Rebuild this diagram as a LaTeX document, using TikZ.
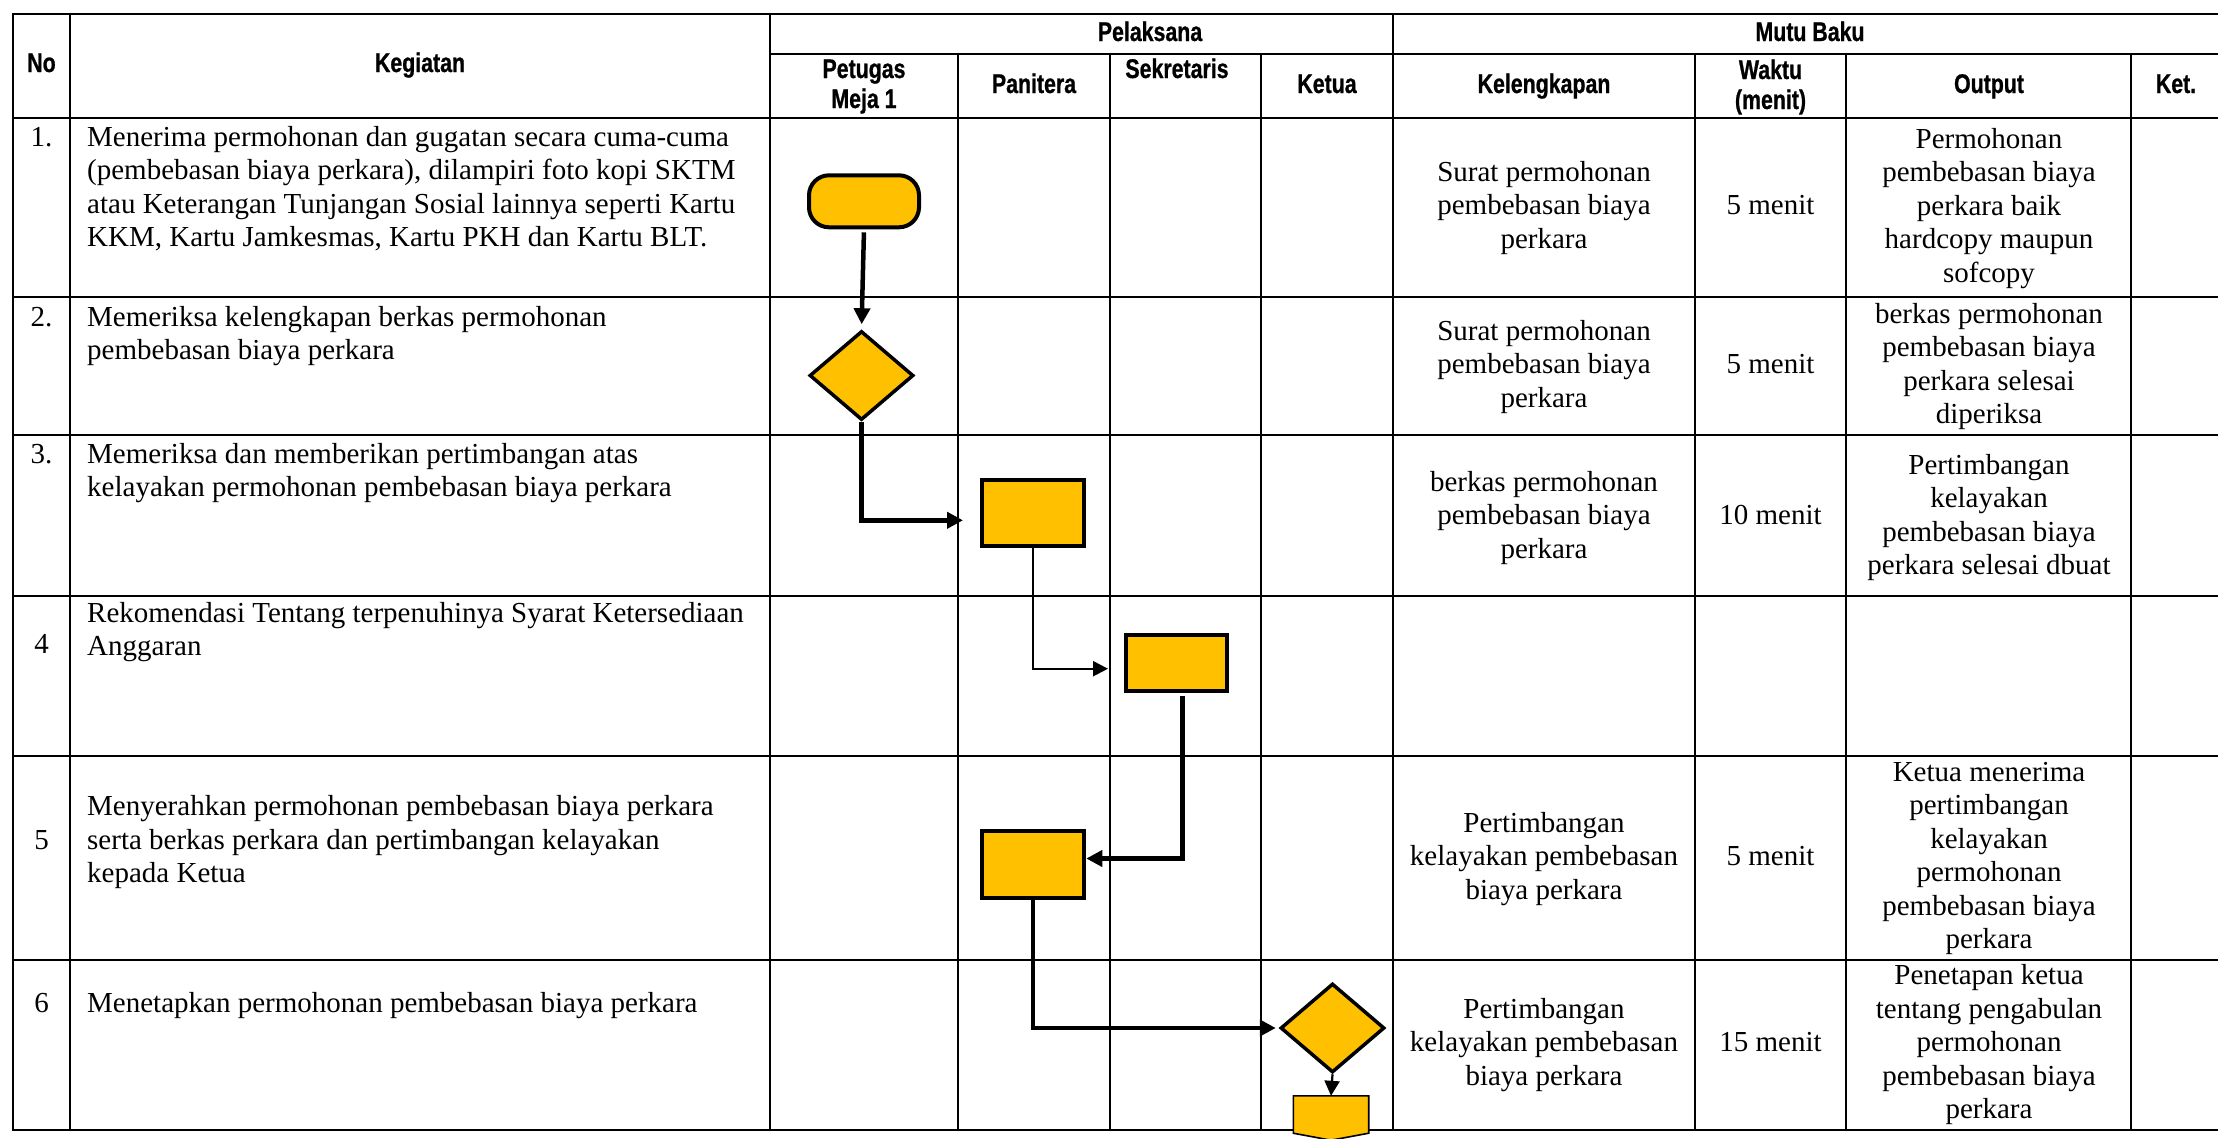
\documentclass[tikz,border=0pt]{standalone}
\usepackage{fontspec}
\setmainfont{Liberation Serif}
\newfontfamily\hdrfamily{Liberation Sans Bold}[FakeStretch=0.79, FakeBold=0.8]
\usetikzlibrary{arrows.meta,shapes.geometric}
\definecolor{gold}{HTML}{FFC000}
\newcommand{\bodyfont}{\fontsize{29}{33.5}\selectfont}
\newcommand{\hdrfont}{\hdrfamily\fontsize{27}{30}\selectfont}
\newcommand{\cellc}[1]{\begin{tabular}{@{}c@{}}#1\end{tabular}}
\newcommand{\celll}[1]{\begin{tabular}[t]{@{}l@{}}#1\end{tabular}}
\begin{document}
\begin{tikzpicture}[x=1pt,y=-1pt,
  grid/.style={line width=2pt, line cap=rect},
  hd/.style={inner sep=0pt, font=\hdrfont},
  txt/.style={inner sep=0pt, font=\bodyfont},
  proc/.style={draw, line width=4pt, fill=gold, minimum width=102.6pt, inner sep=0pt},
  term/.style={draw, line width=4pt, fill=gold, minimum width=110pt, minimum height=52pt, rounded corners=20pt, inner sep=0pt},
  dec/.style={diamond, draw, line width=3.5pt, fill=gold, minimum width=104pt, minimum height=89pt, inner sep=0pt},
  offc/.style={minimum width=75pt, minimum height=44pt, inner sep=0pt},
  offline/.style={draw, line width=1.6pt, fill=gold},
  thickarrow/.style={line width=4.5pt, -{Triangle[length=16pt,width=16pt]}},
  thinarrow/.style={line width=2.2pt, -{Triangle[length=15pt,width=15pt]}}
]
\useasboundingbox (0,0) rectangle (2218,1138);
\clip (0,0) rectangle (2218,1138);
\fill[white] (0,0) rectangle (2218,1138);

% ---------- grid ----------
\foreach \yy in {13.5,117.5,296.5,435,595.5,756,960,1130}
  \draw[grid] (12.5,\yy) -- (2240,\yy);
\draw[grid] (770,54) -- (2240,54);
\foreach \xx in {12.5,70,770,1393}
  \draw[grid] (\xx,13.5) -- (\xx,1130);
\foreach \xx in {958,1109.5,1261,1695,1846,2131}
  \draw[grid] (\xx,54) -- (\xx,1130);

% ---------- headers ----------
\node[hd] (hNo)  at (41.5,66) {\cellc{No}};
\node[hd] (hKeg) at (420,66) {\cellc{Kegiatan}};
\node[hd] (hPel) at (1150,35) {\cellc{Pelaksana}};
\node[hd] (hMut) at (1810,35) {\cellc{Mutu Baku}};
\node[hd] (hPet) at (864,87) {\cellc{Petugas\\Meja 1}};
\node[hd] (hPan) at (1034,87) {\cellc{Panitera}};
\node[hd] (hSek) at (1177,72) {\cellc{Sekretaris}};
\node[hd] (hKet) at (1327,87) {\cellc{Ketua}};
\node[hd] (hKel) at (1544,87) {\cellc{Kelengkapan}};
\node[hd] (hWak) at (1770.5,88) {\cellc{Waktu\\(menit)}};
\node[hd] (hOut) at (1989,87) {\cellc{Output}};
\node[hd] (hKt)  at (2176,87) {\cellc{Ket.}};

% ---------- numbers ----------
\node[txt, anchor=base] (n1) at (41.5,146) {1.};
\node[txt, anchor=base] (n2) at (41.5,326) {2.};
\node[txt, anchor=base] (n3) at (41.5,463) {3.};
\node[txt, anchor=base] (n4) at (41.5,653) {4};
\node[txt, anchor=base] (n5) at (41.5,849) {5};
\node[txt, anchor=base] (n6) at (41.5,1012) {6};

% ---------- kegiatan ----------
\node[txt, anchor=base west] (k1) at (87,146) {\celll{Menerima permohonan dan gugatan secara cuma-cuma\\(pembebasan biaya perkara), dilampiri foto kopi SKTM\\atau Keterangan Tunjangan Sosial lainnya seperti Kartu\\KKM, Kartu Jamkesmas, Kartu PKH dan Kartu BLT.}};
\node[txt, anchor=base west] (k2) at (87,326) {\celll{Memeriksa kelengkapan berkas permohonan\\pembebasan biaya perkara}};
\node[txt, anchor=base west] (k3) at (87,463) {\celll{Memeriksa dan memberikan pertimbangan atas\\kelayakan permohonan pembebasan biaya perkara}};
\node[txt, anchor=base west] (k4) at (87,622) {\celll{Rekomendasi Tentang terpenuhinya Syarat Ketersediaan\\Anggaran}};
\node[txt, anchor=base west] (k5) at (87,815.5) {\celll{Menyerahkan permohonan pembebasan biaya perkara\\serta berkas perkara dan pertimbangan kelayakan\\kepada Ketua}};
\node[txt, anchor=base west] (k6) at (87,1012) {\celll{Menetapkan permohonan pembebasan biaya perkara}};

% ---------- mutu baku ----------
\node[txt] (kel1) at (1544,208) {\cellc{Surat permohonan\\pembebasan biaya\\perkara}};
\node[txt] (w1)   at (1770.5,208) {\cellc{5 menit}};
\node[txt] (o1t)  at (1989,208.5) {\cellc{Permohonan\\pembebasan biaya\\perkara baik\\hardcopy maupun\\sofcopy}};

\node[txt] (kel2) at (1544,367) {\cellc{Surat permohonan\\pembebasan biaya\\perkara}};
\node[txt] (w2)   at (1770.5,367) {\cellc{5 menit}};
\node[txt] (o2t)  at (1989,367) {\cellc{berkas permohonan\\pembebasan biaya\\perkara selesai\\diperiksa}};

\node[txt] (kel3) at (1544,518) {\cellc{berkas permohonan\\pembebasan biaya\\perkara}};
\node[txt] (w3)   at (1770.5,518) {\cellc{10 menit}};
\node[txt] (o3t)  at (1989,518) {\cellc{Pertimbangan\\kelayakan\\pembebasan biaya\\perkara selesai dbuat}};

\node[txt] (kel5) at (1544,859) {\cellc{Pertimbangan\\kelayakan pembebasan\\biaya perkara}};
\node[txt] (w5)   at (1770.5,859) {\cellc{5 menit}};
\node[txt] (o5t)  at (1989,858.5) {\cellc{Ketua menerima\\pertimbangan\\kelayakan\\permohonan\\pembebasan biaya\\perkara}};

\node[txt] (kel6) at (1544,1045) {\cellc{Pertimbangan\\kelayakan pembebasan\\biaya perkara}};
\node[txt] (w6)   at (1770.5,1045) {\cellc{15 menit}};
\node[txt] (o6t)  at (1989,1045) {\cellc{Penetapan ketua\\tentang pengabulan\\permohonan\\pembebasan biaya\\perkara}};

% ---------- flow shapes ----------
\node[term] (t1) at (864,201.3) {};
\node[dec] (d1) at (861.5,375.5) {};
\node[proc, minimum height=66pt] (p1) at (1033,513.3) {};
\node[proc, minimum height=56pt, minimum width=101pt] (p2) at (1176.5,662.7) {};
\node[proc, minimum height=67pt] (p3) at (1033,864.5) {};
\node[dec] (d2) at (1332.5,1028) {};
\node[offc] (off) at (1331,1118) {};
\path[offline] (off.north west) -- (off.north east) -- ([yshift=7pt]off.south east) -- (off.south) -- ([yshift=7pt]off.south west) -- cycle;

% ---------- connectors ----------
\draw[thickarrow, shorten <=3pt, shorten >=5pt] (t1.south) -- (d1.north);
\draw[thickarrow, shorten >=16.7pt] (d1.south) |- ([yshift=-7pt]p1.west);
\draw[thinarrow, shorten >=16pt] (p1.south) |- ([yshift=-6pt]p2.west);
\draw[thickarrow, shorten <=3pt] ([xshift=6pt]p2.south) |- ([yshift=6pt]p3.east);
\draw[thickarrow, shorten >=3pt] (p3.south) |- (d2.west);
\draw[thinarrow] (d2.south) -- (off.north);
\end{tikzpicture}
\end{document}
